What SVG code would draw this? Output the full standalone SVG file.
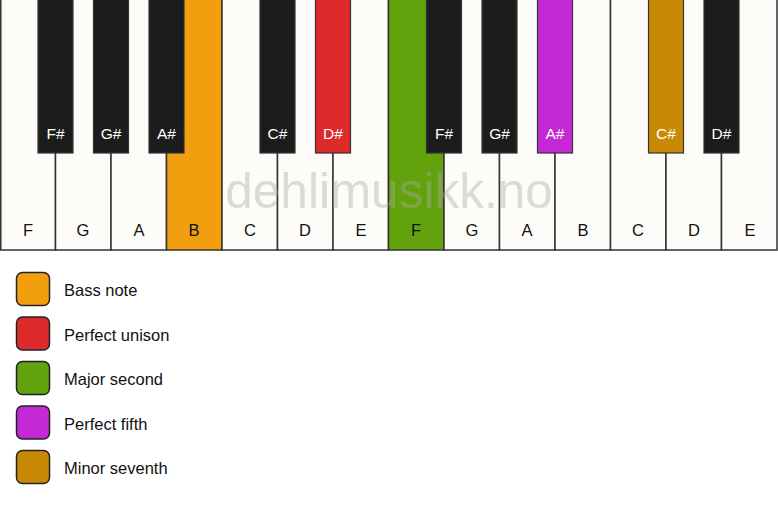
<svg xmlns="http://www.w3.org/2000/svg" width="778" height="506" viewBox="0 0 778 506">
<style>
.w{fill:#fdfcf9;stroke:#333;stroke-width:1.5}
.b{fill:#1c1c1c;stroke:#333;stroke-width:1.2}
.wl{font-family:"Liberation Sans",Arial,sans-serif;font-size:16.5px;fill:#111;text-anchor:middle}
.bl{font-family:"Liberation Sans",Arial,sans-serif;font-size:15.5px;fill:#fff;text-anchor:middle}
.lg{stroke:#222;stroke-width:1.5}
.lt{font-family:"Liberation Sans",Arial,sans-serif;font-size:16.5px;fill:#111}
</style>
<rect width="778" height="506" fill="#fff"/>
<g id="white-keys">
<g id="w-F1"><rect class="w" x="0.75" y="-2" width="54.75" height="252"/><text class="wl" x="28" y="236">F</text></g>
<g id="w-G1"><rect class="w" x="55.5" y="-2" width="55.5" height="252"/><text class="wl" x="83" y="236">G</text></g>
<g id="w-A1"><rect class="w" x="111" y="-2" width="55.5" height="252"/><text class="wl" x="139" y="236">A</text></g>
<g id="w-B1"><rect class="w" x="166.5" y="-2" width="55.5" height="252" style="fill:#f29f0f"/><text class="wl" x="194" y="236">B</text></g>
<g id="w-C1"><rect class="w" x="222" y="-2" width="55.5" height="252"/><text class="wl" x="250" y="236">C</text></g>
<g id="w-D1"><rect class="w" x="277.5" y="-2" width="55.5" height="252"/><text class="wl" x="305" y="236">D</text></g>
<g id="w-E1"><rect class="w" x="333" y="-2" width="55.5" height="252"/><text class="wl" x="361" y="236">E</text></g>
<g id="w-F2"><rect class="w" x="388.5" y="-2" width="55.5" height="252" style="fill:#62a30d"/><text class="wl" x="416" y="236">F</text></g>
<g id="w-G2"><rect class="w" x="444" y="-2" width="55.5" height="252"/><text class="wl" x="472" y="236">G</text></g>
<g id="w-A2"><rect class="w" x="499.5" y="-2" width="55.5" height="252"/><text class="wl" x="527" y="236">A</text></g>
<g id="w-B2"><rect class="w" x="555" y="-2" width="55.5" height="252"/><text class="wl" x="583" y="236">B</text></g>
<g id="w-C2"><rect class="w" x="610.5" y="-2" width="55.5" height="252"/><text class="wl" x="638" y="236">C</text></g>
<g id="w-D2"><rect class="w" x="666" y="-2" width="55.5" height="252"/><text class="wl" x="694" y="236">D</text></g>
<g id="w-E2"><rect class="w" x="721.5" y="-2" width="55.5" height="252"/><text class="wl" x="750" y="236">E</text></g>
</g>
<text x="389" y="208" font-family="Liberation Sans,Arial,sans-serif" font-size="49.5" fill="#a8a8a8" opacity="0.4" text-anchor="middle">dehlimusikk.no</text>
<g id="black-keys">
<g id="b-Fs1"><rect class="b" x="38" y="-2" width="35" height="155"/><text class="bl" x="55.5" y="139">F#</text></g>
<g id="b-Gs1"><rect class="b" x="93.5" y="-2" width="35" height="155"/><text class="bl" x="111" y="139">G#</text></g>
<g id="b-As1"><rect class="b" x="149" y="-2" width="35" height="155"/><text class="bl" x="166.5" y="139">A#</text></g>
<g id="b-Cs1"><rect class="b" x="260" y="-2" width="35" height="155"/><text class="bl" x="277.5" y="139">C#</text></g>
<g id="b-Ds1"><rect class="b" x="315.5" y="-2" width="35" height="155" style="fill:#dd2a2a"/><text class="bl" x="333" y="139">D#</text></g>
<g id="b-Fs2"><rect class="b" x="426.5" y="-2" width="35" height="155"/><text class="bl" x="444" y="139">F#</text></g>
<g id="b-Gs2"><rect class="b" x="482" y="-2" width="35" height="155"/><text class="bl" x="499.5" y="139">G#</text></g>
<g id="b-As2"><rect class="b" x="537.5" y="-2" width="35" height="155" style="fill:#c429d5"/><text class="bl" x="555" y="139">A#</text></g>
<g id="b-Cs2"><rect class="b" x="648.5" y="-2" width="35" height="155" style="fill:#c88a04"/><text class="bl" x="666" y="139">C#</text></g>
<g id="b-Ds2"><rect class="b" x="704" y="-2" width="35" height="155"/><text class="bl" x="721.5" y="139">D#</text></g>
</g>
<g id="legend">
<g id="lg-bass"><rect class="lg" x="16.5" y="272.5" width="33" height="33" rx="6" fill="#f29f0f"/><text class="lt" x="64" y="296">Bass note</text></g>
<g id="lg-unison"><rect class="lg" x="16.5" y="317" width="33" height="33" rx="6" fill="#dd2a2a"/><text class="lt" x="64" y="340.5">Perfect unison</text></g>
<g id="lg-second"><rect class="lg" x="16.5" y="361.5" width="33" height="33" rx="6" fill="#62a30d"/><text class="lt" x="64" y="385">Major second</text></g>
<g id="lg-fifth"><rect class="lg" x="16.5" y="406" width="33" height="33" rx="6" fill="#c429d5"/><text class="lt" x="64" y="429.5">Perfect fifth</text></g>
<g id="lg-seventh"><rect class="lg" x="16.5" y="450.5" width="33" height="33" rx="6" fill="#c88a04"/><text class="lt" x="64" y="474">Minor seventh</text></g>
</g>
</svg>
